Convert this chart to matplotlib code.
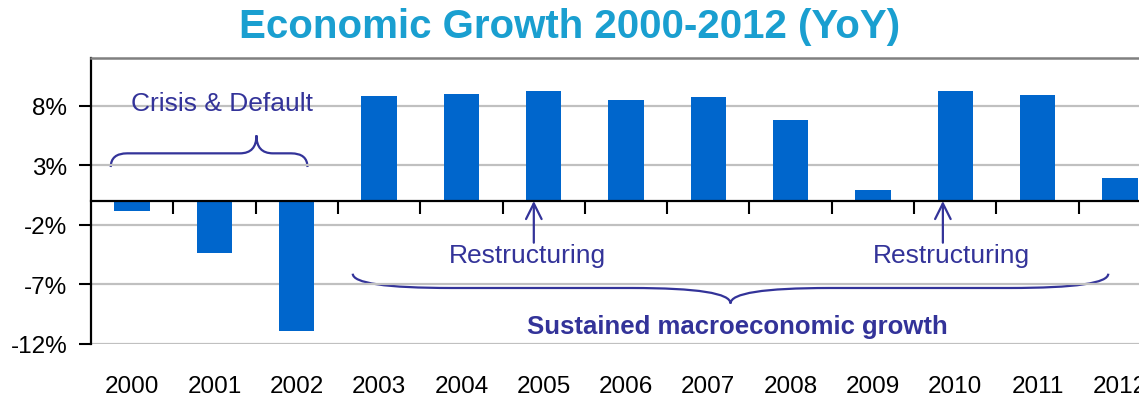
import numpy as np
import matplotlib
matplotlib.use("Agg")
import matplotlib.pyplot as plt
from matplotlib.path import Path
from matplotlib.patches import PathPatch

plt.rcParams['font.family'] = ['Liberation Sans', 'DejaVu Sans']

# data
years = ['2000', '2001', '2002', '2003', '2004', '2005', '2006',
         '2007', '2008', '2009', '2010', '2011', '2012']
growth = [-0.8, -4.4, -10.9, 8.8, 9.0, 9.2, 8.5, 8.7, 6.8, 0.9, 9.2, 8.9, 1.9]
ytick_vals = [-12, -7, -2, 3, 8]
ytick_labels = ['-12%', '-7%', '-2%', '3%', '8%']

BAR = '#0066CC'
ANN = '#333399'
TITLE = '#1A9FD0'


def brace(ax, x0, x1, xt, y_end, y_mid, y_tip, r, lw=1.6):
    # curly brace drawn with quadratic curves (data coords)
    verts = [(x0, y_end), (x0, y_mid), (x0 + r, y_mid),
             (xt - r, y_mid), (xt, y_mid), (xt, y_tip),
             (xt, y_mid), (xt + r, y_mid),
             (x1 - r, y_mid), (x1, y_mid), (x1, y_end)]
    codes = [Path.MOVETO, Path.CURVE3, Path.CURVE3,
             Path.LINETO, Path.CURVE3, Path.CURVE3,
             Path.CURVE3, Path.CURVE3,
             Path.LINETO, Path.CURVE3, Path.CURVE3]
    ax.add_patch(PathPatch(Path(verts, codes), fill=False, edgecolor=ANN,
                           lw=lw, clip_on=False))


fig = plt.figure(figsize=(11.39, 4.02), dpi=100)
ax = fig.add_axes([0.0799, 0.1418, 0.9394, 0.7114])

x = np.arange(len(years))
ax.bar(x, growth, width=0.43, color=BAR, zorder=3)

ax.set_xlim(-0.5, len(years) - 0.5)
ax.set_ylim(-12, 12)
ax.set_yticks(ytick_vals)
ax.set_yticklabels(ytick_labels, fontsize=17.5)
ax.yaxis.grid(True, color='#C0C0C0', lw=1.6, zorder=0)
ax.tick_params(axis='y', length=9, width=1.5, color='black', pad=8)

# zero axis with boundary ticks
ax.spines['bottom'].set_position(('data', 0))
ax.spines['bottom'].set_color('black')
ax.spines['bottom'].set_linewidth(1.6)
ax.spines['bottom'].set_zorder(4)
ax.set_xticks(x)
ax.set_xticklabels([])
ax.set_xticks(x[:-1] + 0.5, minor=True)
ax.tick_params(axis='x', which='major', length=0)
ax.tick_params(axis='x', which='minor', length=9, width=1.5, color='black')
ax.spines['left'].set_linewidth(1.6)
ax.spines['top'].set_color('#808080')
ax.spines['top'].set_linewidth(1.8)
ax.spines['right'].set_visible(False)

sec = ax.secondary_xaxis('bottom')
sec.set_xticks(x)
sec.set_xticklabels(years, fontsize=17.5)
sec.tick_params(length=0, pad=22)
sec.spines['bottom'].set_visible(False)

# annotations
ax.text(1.09, 8.2, 'Crisis & Default', color=ANN, fontsize=19,
        ha='center', va='center')
brace(ax, -0.26, 2.13, 1.51, 2.85, 4.0, 5.5, 0.2)

ax.annotate('', xy=(4.88, 0), xytext=(4.88, -3.5),
            arrowprops=dict(arrowstyle='->', color=ANN, lw=1.6,
                            mutation_scale=28, shrinkA=0, shrinkB=0))
ax.annotate('', xy=(9.85, 0), xytext=(9.85, -3.5),
            arrowprops=dict(arrowstyle='->', color=ANN, lw=1.6,
                            mutation_scale=28, shrinkA=0, shrinkB=0))
ax.text(4.8, -4.55, 'Restructuring', color=ANN, fontsize=19,
        ha='center', va='center')
ax.text(9.95, -4.55, 'Restructuring', color=ANN, fontsize=19,
        ha='center', va='center')

brace(ax, 2.68, 11.86, 7.27, -6.1, -7.3, -8.6, 1.2)
ax.text(7.35, -10.45, 'Sustained macroeconomic growth', color=ANN,
        fontsize=18.5, fontweight='bold', ha='center', va='center')

fig.text(0.5, 1 - 27 / 402, 'Economic Growth 2000-2012 (YoY)', color=TITLE,
         fontsize=29, fontweight='bold', ha='center', va='center')

fig.savefig('out.png', dpi=100)
